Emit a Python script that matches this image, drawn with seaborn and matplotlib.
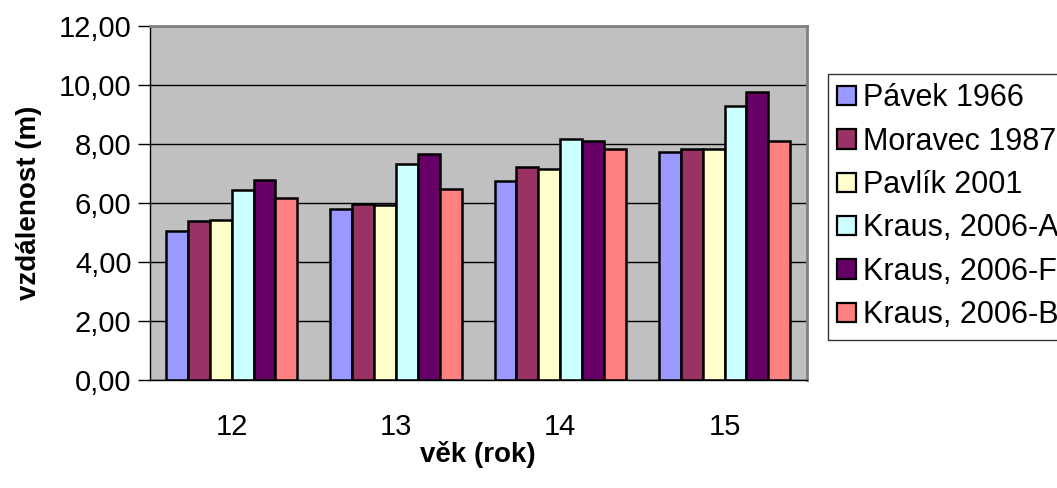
import matplotlib
matplotlib.use("Agg")
import matplotlib.pyplot as plt
import matplotlib.ticker as mticker
import pandas as pd
import seaborn as sns

# Throw distance by age for several studies
ages = ["12", "13", "14", "15"]
series = ["Pávek 1966", "Moravec 1987", "Pavlík 2001",
          "Kraus, 2006-A", "Kraus, 2006-F", "Kraus, 2006-B"]
pavek_1966 = [5.04, 5.79, 6.74, 7.71]
moravec_1987 = [5.40, 5.95, 7.23, 7.84]
pavlik_2001 = [5.43, 5.92, 7.15, 7.81]
kraus_2006_a = [6.43, 7.33, 8.17, 9.28]
kraus_2006_f = [6.79, 7.65, 8.09, 9.74]
kraus_2006_b = [6.16, 6.48, 7.82, 8.09]
colors = ["#9999FF", "#993366", "#FFFFCC", "#CCFFFF", "#660066", "#FF8080"]

values = [pavek_1966, moravec_1987, pavlik_2001,
          kraus_2006_a, kraus_2006_f, kraus_2006_b]
rows = []
for name, vals in zip(series, values):
    for age, v in zip(ages, vals):
        rows.append({"věk": age, "vzdálenost": v, "série": name})
df = pd.DataFrame(rows)

sns.set_style("white")
plt.rcParams["font.family"] = ["Liberation Sans", "DejaVu Sans"]
plt.rcParams["text.color"] = "black"
plt.rcParams["axes.labelcolor"] = "black"
plt.rcParams["xtick.color"] = "black"
plt.rcParams["ytick.color"] = "black"

fig = plt.figure(figsize=(10.57, 4.88), dpi=100)
ax = fig.add_axes([149.5 / 1057, 1 - 380 / 488,
                   (806.7 - 149.5) / 1057, (380 - 25.7) / 488])

sns.barplot(data=df, x="věk", y="vzdálenost", hue="série",
            order=ages, hue_order=series, palette=colors, saturation=1,
            width=0.8, edgecolor="black", linewidth=1.8, ax=ax,
            legend=False)

ax.set_facecolor("#C0C0C0")
ax.set_ylim(0, 12)
ax.set_xlim(-0.5, 3.5)
ax.set_yticks(range(0, 13, 2))
ax.yaxis.set_major_formatter(
    mticker.FuncFormatter(lambda v, _: f"{v:.2f}".replace(".", ",")))
ax.yaxis.grid(True, color="black", linewidth=1)
ax.set_axisbelow(True)

# Category labels centred, tick marks between categories
ax.set_xticks(range(len(ages)))
ax.set_xticklabels(ages)
ax.set_xticks([i - 0.5 for i in range(len(ages) + 1)], minor=True)
ax.tick_params(axis="x", which="major", length=0, pad=24, labelsize=21)
ax.tick_params(axis="x", which="minor", length=8, width=1, color="black",
               direction="out")
ax.tick_params(axis="y", length=9, width=1, color="black", direction="out",
               pad=4, labelsize=21, left=True)

for side in ("left", "bottom"):
    ax.spines[side].set_color("black")
    ax.spines[side].set_linewidth(1)
for side in ("top", "right"):
    ax.spines[side].set_color("#808080")
    ax.spines[side].set_linewidth(2)

ax.set_xlabel("věk (rok)", fontsize=20, fontweight="bold", labelpad=0)
ax.set_ylabel("vzdálenost (m)", fontsize=20, fontweight="bold", labelpad=12)

handles = [plt.Rectangle((0, 0), 1, 1, facecolor=c, edgecolor="black",
                         linewidth=1.6) for c in colors]
leg = fig.legend(handles, series, loc="upper left",
                 bbox_to_anchor=(828 / 1057, 1 - 74 / 488),
                 borderaxespad=0, frameon=True, fancybox=False,
                 fontsize=22, handlelength=0.6, handleheight=0.6,
                 handletextpad=0.25, labelspacing=0.44, borderpad=0.3)
leg.get_frame().set_edgecolor("black")
leg.get_frame().set_linewidth(1)

fig.savefig("out.png", dpi=100, facecolor="white")
